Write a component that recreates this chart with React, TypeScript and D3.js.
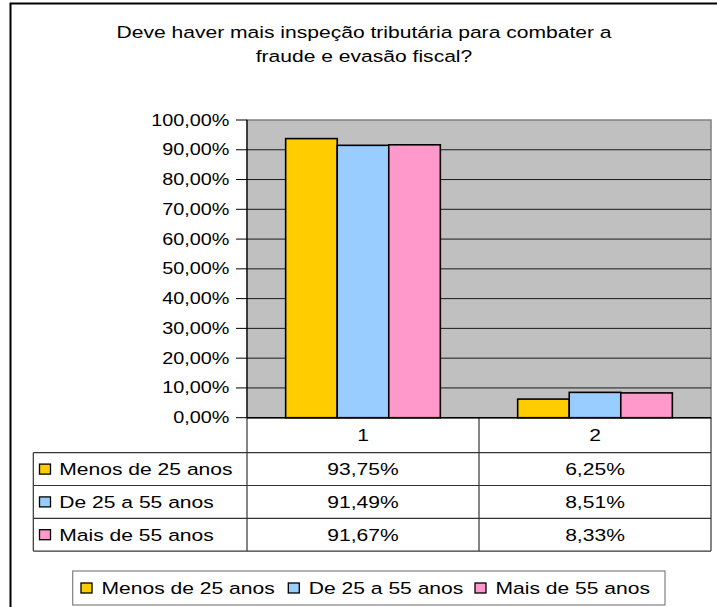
import * as d3 from "d3";

const categories = ["1", "2"];
const seriesNames = ["Menos de 25 anos", "De 25 a 55 anos", "Mais de 55 anos"];
const menos25 = [93.75, 6.25];
const de25a55 = [91.49, 8.51];
const mais55 = [91.67, 8.33];
const seriesValues = [menos25, de25a55, mais55];
const colors = ["#FFCC00", "#99CCFF", "#FF99CC"];
const titleLines = ["Deve haver mais inspeção tributária para combater a", "fraude e evasão fiscal?"];

const W = 717;
const H = 607;
const plot = { left: 247, right: 711, top: 120, bottom: 417.7 };
const FONT = "'Liberation Sans', Arial, sans-serif";
const SX = 1.24; // text in the picture is stretched horizontally

const ptBR = d3.formatLocale({ decimal: ",", thousands: ".", grouping: [3], currency: ["R$", ""] });
const fmt = (v: number) => ptBR.format(".2f")(v) + "%";

const T = ({ x, y, anchor = "start", size = 17, children }: any) => (
  <text
    transform={`translate(${x},${y}) scale(${SX},1)`}
    textAnchor={anchor}
    fontFamily={FONT}
    fontSize={size}
    fill="#000"
  >
    {children}
  </text>
);

export default function App() {
  const x = d3.scaleBand().domain(categories).range([plot.left, plot.right]).paddingInner(0).paddingOuter(0);
  const xs = d3
    .scaleBand()
    .domain(seriesNames)
    .range([0, x.bandwidth()])
    .paddingInner(0)
    .paddingOuter(0.75);
  const y = d3.scaleLinear().domain([0, 100]).range([plot.bottom, plot.top]);
  const ticks = y.ticks(10);

  // table geometry
  const tableLeft = 33.3;
  const headerBottom = 452.7;
  const rowH = 32.8;
  const rowY = (i: number) => headerBottom + i * rowH;

  // legend
  const legend = { x: 72.7, y: 571, w: 592.3, h: 34 };
  const legendItemX = [81, 288.3, 475];

  return (
    <svg width={W} height={H} style={{ position: "absolute", left: 0, top: 0 }}>
      <rect x={0} y={0} width={W} height={H} fill="#fff" />
      {/* outer frame */}
      <rect x={10.5} y={3.5} width={W + 20} height={H + 20} fill="none" stroke="#000" strokeWidth={2} />

      {/* title */}
      {titleLines.map((t, i) => (
        <T key={i} x={364} y={37.5 + i * 24.5} anchor="middle">
          {t}
        </T>
      ))}

      {/* plot area */}
      <rect
        x={plot.left}
        y={plot.top}
        width={plot.right - plot.left}
        height={plot.bottom - plot.top}
        fill="#C0C0C0"
        stroke="#808080"
        strokeWidth={1.5}
      />
      {ticks
        .filter((t) => t > 0 && t < 100)
        .map((t) => (
          <line key={t} x1={plot.left} x2={plot.right} y1={y(t)} y2={y(t)} stroke="#1a1a1a" strokeWidth={1} />
        ))}

      {/* bars */}
      {categories.map((c, ci) =>
        seriesNames.map((s, si) => {
          const v = seriesValues[si][ci];
          const bx = (x(c) ?? 0) + (xs(s) ?? 0);
          return (
            <rect
              key={c + s}
              x={bx}
              y={y(v)}
              width={xs.bandwidth()}
              height={y(0) - y(v)}
              fill={colors[si]}
              stroke="#000"
              strokeWidth={1.6}
            />
          );
        })
      )}

      {/* y axis */}
      <line x1={plot.left} x2={plot.left} y1={plot.top} y2={plot.bottom} stroke="#000" strokeWidth={1.2} />
      {ticks.map((t) => (
        <g key={t}>
          <line x1={plot.left - 11} x2={plot.left} y1={y(t)} y2={y(t)} stroke="#000" strokeWidth={1} />
          <T x={229.5} y={y(t) + 5.5} anchor="end" size={16}>
            {fmt(t)}
          </T>
        </g>
      ))}

      {/* data table */}
      <g stroke="#333" strokeWidth={1.2} fill="none">
        <line x1={plot.left} x2={plot.left} y1={plot.bottom} y2={rowY(3)} />
        <line x1={x("2")} x2={x("2")} y1={plot.bottom} y2={rowY(3)} />
        <line x1={plot.right} x2={plot.right} y1={plot.bottom} y2={rowY(3)} />
        <line x1={tableLeft} x2={tableLeft} y1={rowY(0)} y2={rowY(3)} />
        {[0, 1, 2, 3].map((i) => (
          <line key={i} x1={tableLeft} x2={plot.right} y1={rowY(i)} y2={rowY(i)} />
        ))}
      </g>
      <line x1={plot.left} x2={plot.right} y1={plot.bottom} y2={plot.bottom} stroke="#000" strokeWidth={1.6} />
      {categories.map((c) => (
        <T key={c} x={(x(c) ?? 0) + x.bandwidth() / 2} y={(plot.bottom + headerBottom) / 2 + 6} anchor="middle">
          {c}
        </T>
      ))}
      {seriesNames.map((s, si) => (
        <g key={s}>
          <rect
            x={39.5}
            y={rowY(si) + rowH / 2 - 5}
            width={11}
            height={10}
            fill={colors[si]}
            stroke="#000"
            strokeWidth={1.3}
          />
          <T x={59.3} y={rowY(si) + rowH / 2 + 6}>
            {s}
          </T>
          {categories.map((c, ci) => (
            <T key={c} x={(x(c) ?? 0) + x.bandwidth() / 2} y={rowY(si) + rowH / 2 + 6} anchor="middle">
              {fmt(seriesValues[si][ci])}
            </T>
          ))}
        </g>
      ))}

      {/* legend */}
      <rect x={legend.x} y={legend.y} width={legend.w} height={legend.h} fill="#fff" stroke="#808080" strokeWidth={1.2} />
      {seriesNames.map((s, si) => (
        <g key={s}>
          <rect
            x={legendItemX[si]}
            y={legend.y + legend.h / 2 - 5}
            width={11}
            height={10}
            fill={colors[si]}
            stroke="#000"
            strokeWidth={1.3}
          />
          <T x={legendItemX[si] + 20.5} y={legend.y + legend.h / 2 + 6}>
            {s}
          </T>
        </g>
      ))}
    </svg>
  );
}
